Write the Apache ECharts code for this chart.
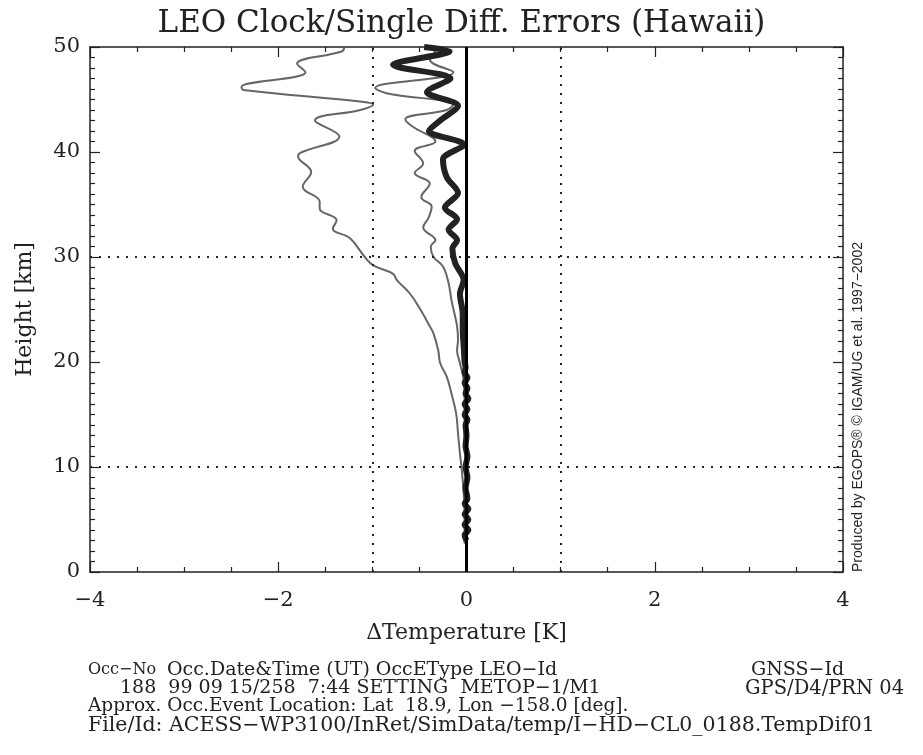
<!DOCTYPE html>
<html>
<head>
<meta charset="utf-8">
<script src="https://cdn.jsdelivr.net/npm/echarts@6/dist/echarts.min.js"></script>
<style>html,body{margin:0;padding:0;background:#fff}#c{width:923px;height:755px}</style>
</head>
<body>
<div id="c"></div>
<script>
// ---- data ----
const titleText = 'LEO Clock/Single Diff. Errors (Hawaii)';
const xTicks = [-4, -2, 0, 2, 4];
const yTicks = [0, 10, 20, 30, 40, 50];
const gridX = [-1, 1];
const gridY = [10, 30];

// leftmost thin grey curve
const heightA = [50.0, 49.6, 48.4, 47.6, 46.2, 45.9, 44.8, 44.5, 44.0, 43.0, 41.5, 39.9, 39.6, 38.1, 36.7, 35.3, 34.6, 33.5, 32.7, 31.8, 30.0, 29.2, 28.4, 27.8, 26.5, 25.0, 23.4, 22.7, 21.1, 19.9, 18.6, 17.0, 15.1, 13.2, 11.3, 9.7, 7.5, 5.0, 2.7];
const tempA   = [-1.30, -1.32, -1.80, -1.71, -2.39, -2.37, -1.13, -0.99, -1.13, -1.61, -1.35, -1.77, -1.79, -1.65, -1.74, -1.56, -1.56, -1.38, -1.42, -1.24, -1.08, -0.99, -0.78, -0.74, -0.60, -0.49, -0.39, -0.35, -0.30, -0.28, -0.21, -0.16, -0.11, -0.09, -0.07, -0.05, -0.03, -0.02, -0.02];

// middle thin grey curve
const heightB = [50.0, 48.8, 47.6, 46.1, 45.6, 44.5, 44.0, 43.1, 42.4, 41.0, 40.1, 38.9, 38.0, 37.0, 35.7, 34.8, 33.8, 32.8, 31.6, 31.0, 30.0, 29.1, 27.5, 25.9, 24.3, 23.4, 22.1, 21.1, 19.9, 18.3, 16.0, 13.0, 10.0, 7.0, 5.0, 3.0];
const tempB   = [-0.28, -0.39, -0.14, -0.97, -0.85, -0.14, -0.21, -0.65, -0.57, -0.33, -0.55, -0.46, -0.55, -0.39, -0.48, -0.37, -0.40, -0.46, -0.33, -0.38, -0.35, -0.25, -0.19, -0.16, -0.12, -0.10, -0.09, -0.10, -0.07, -0.03, -0.02, -0.02, -0.01, -0.01, -0.01, -0.01];

// thick black curve
const heightC = [50.0, 49.6, 48.3, 47.0, 45.7, 44.4, 43.0, 42.0, 40.7, 39.3, 37.6, 36.1, 34.7, 33.6, 32.6, 31.6, 30.8, 29.4, 27.8, 26.5, 24.6, 23.0, 21.5, 20.0, 19.5, 19.0, 18.5, 18.0, 17.5, 17.0, 16.5, 16.0, 15.5, 15.0, 14.5, 14.0, 13.0, 12.0, 11.0, 10.0, 9.0, 8.0, 7.0, 6.5, 6.0, 5.5, 5.0, 4.5, 4.0, 3.5, 3.0];
const tempC   = [-0.45, -0.18, -0.78, -0.17, -0.42, -0.09, -0.28, -0.40, -0.03, -0.25, -0.21, -0.09, -0.23, -0.10, -0.19, -0.10, -0.15, -0.12, -0.03, -0.07, -0.04, -0.04, -0.03, -0.02, -0.01, -0.02, 0.01, -0.02, 0.01, -0.01, 0.02, -0.02, 0.01, -0.02, 0.01, -0.01, 0.00, -0.01, 0.01, -0.01, 0.01, -0.01, 0.01, -0.02, 0.02, -0.02, 0.02, -0.02, 0.02, -0.02, 0.0];

const footLines = [
  ['Occ−No', 'Occ.Date&Time (UT) OccEType LEO−Id', 'GNSS−Id'],
  ['188  99 09 15/258  7:44 SETTING  METOP−1/M1', 'GPS/D4/PRN 04'],
  ['Approx. Occ.Event Location: Lat  18.9, Lon −158.0 [deg].'],
  ['File/Id: ACESS−WP3100/InRet/SimData/temp/I−HD−CL0_0188.TempDif01']
];
const creditText = 'Produced by EGOPS® © IGAM/UG et al. 1997−2002';

// ---- build ----
const zip = (xs, ys) => xs.map((x, i) => [x, ys[i]]);
const serif = 'DejaVu Serif';
const ink = '#222';
const fmt = v => String(v).replace('-', '−');
const ff = s => s + 'px "DejaVu Serif"';

const axisCommon = {
  type: 'value',
  axisLine: { show: true, onZero: false, lineStyle: { color: ink, width: 1.5 } },
  axisTick: { show: true, inside: true, length: 10, lineStyle: { color: ink, width: 1.2 } },
  minorTick: { show: true, length: 5, lineStyle: { color: ink, width: 1.2 } },
  splitLine: { show: false }
};

const option = {
  animation: false,
  backgroundColor: '#fff',
  title: {
    text: titleText, left: 'center', top: 3,
    textStyle: { fontFamily: serif, fontWeight: 'normal', fontSize: 31, color: ink }
  },
  grid: { left: 90, right: 80, top: 47, bottom: 183 },
  xAxis: [
    Object.assign({}, axisCommon, {
      position: 'bottom', min: -4, max: 4, interval: 2,
      minorTick: Object.assign({}, axisCommon.minorTick, { splitNumber: 4 }),
      axisLabel: { fontFamily: serif, fontSize: 21, color: ink, margin: 18, formatter: fmt },
      name: 'ΔTemperature [K]', nameLocation: 'middle', nameGap: 50,
      nameTextStyle: { fontFamily: serif, fontSize: 22, color: ink }
    }),
    Object.assign({}, axisCommon, {
      position: 'top', min: -4, max: 4, interval: 2,
      minorTick: Object.assign({}, axisCommon.minorTick, { splitNumber: 4 }),
      axisLabel: { show: false }
    })
  ],
  yAxis: [
    Object.assign({}, axisCommon, {
      position: 'left', min: 0, max: 50, interval: 10,
      minorTick: Object.assign({}, axisCommon.minorTick, { splitNumber: 10 }),
      axisLabel: { fontFamily: serif, fontSize: 21, color: ink, margin: 10 },
      name: 'Height [km]', nameLocation: 'middle', nameGap: 54, nameRotate: 90,
      nameTextStyle: { fontFamily: serif, fontSize: 22, color: ink }
    }),
    Object.assign({}, axisCommon, {
      position: 'right', min: 0, max: 50, interval: 10,
      minorTick: Object.assign({}, axisCommon.minorTick, { splitNumber: 10 }),
      axisLabel: { show: false }
    })
  ],
  series: [
    {
      type: 'line', data: [], silent: true,
      markLine: {
        silent: true, symbol: 'none', label: { show: false },
        lineStyle: { color: ink, width: 2, type: [2, 7] },
        data: gridX.map(v => ({ xAxis: v })).concat(gridY.map(v => ({ yAxis: v })))
      }
    },
    {
      type: 'line', data: [], silent: true,
      markLine: {
        silent: true, symbol: 'none', label: { show: false },
        lineStyle: { color: '#000', width: 3, type: 'solid' },
        data: [{ xAxis: 0 }]
      }
    },
    { type: 'line', data: zip(tempA, heightA), smooth: 0.4, showSymbol: false, lineStyle: { color: '#666', width: 2 } },
    { type: 'line', data: zip(tempB, heightB), smooth: 0.4, showSymbol: false, lineStyle: { color: '#666', width: 2 } },
    { type: 'line', data: zip(tempC, heightC), smooth: 0.3, showSymbol: false, lineStyle: { color: '#222', width: 6 } }
  ],
  graphic: [
    { type: 'text', left: 88, top: 662, style: { text: footLines[0][0], font: ff(16), fill: ink } },
    { type: 'text', left: 167, top: 661, style: { text: footLines[0][1], font: ff(19), fill: ink } },
    { type: 'text', left: 751, top: 661, style: { text: footLines[0][2], font: ff(19), fill: ink } },
    { type: 'text', left: 120, top: 679, style: { text: footLines[1][0], font: ff(19), fill: ink } },
    { type: 'text', left: 745, top: 679, style: { text: footLines[1][1], font: ff(19.5), fill: ink } },
    { type: 'text', left: 88, top: 697, style: { text: footLines[2][0], font: ff(18.5), fill: ink } },
    { type: 'text', left: 88, top: 715, style: { text: footLines[3][0], font: ff(20.5), fill: ink } },
    {
      type: 'text', x: 858, y: 407, rotation: Math.PI / 2,
      style: { text: creditText, font: '14px "Liberation Sans"', fill: ink, align: 'center', verticalAlign: 'middle' }
    }
  ]
};

const chart = echarts.init(document.getElementById('c'), null, { renderer: 'canvas' });
chart.setOption(option);
</script>
</body>
</html>
